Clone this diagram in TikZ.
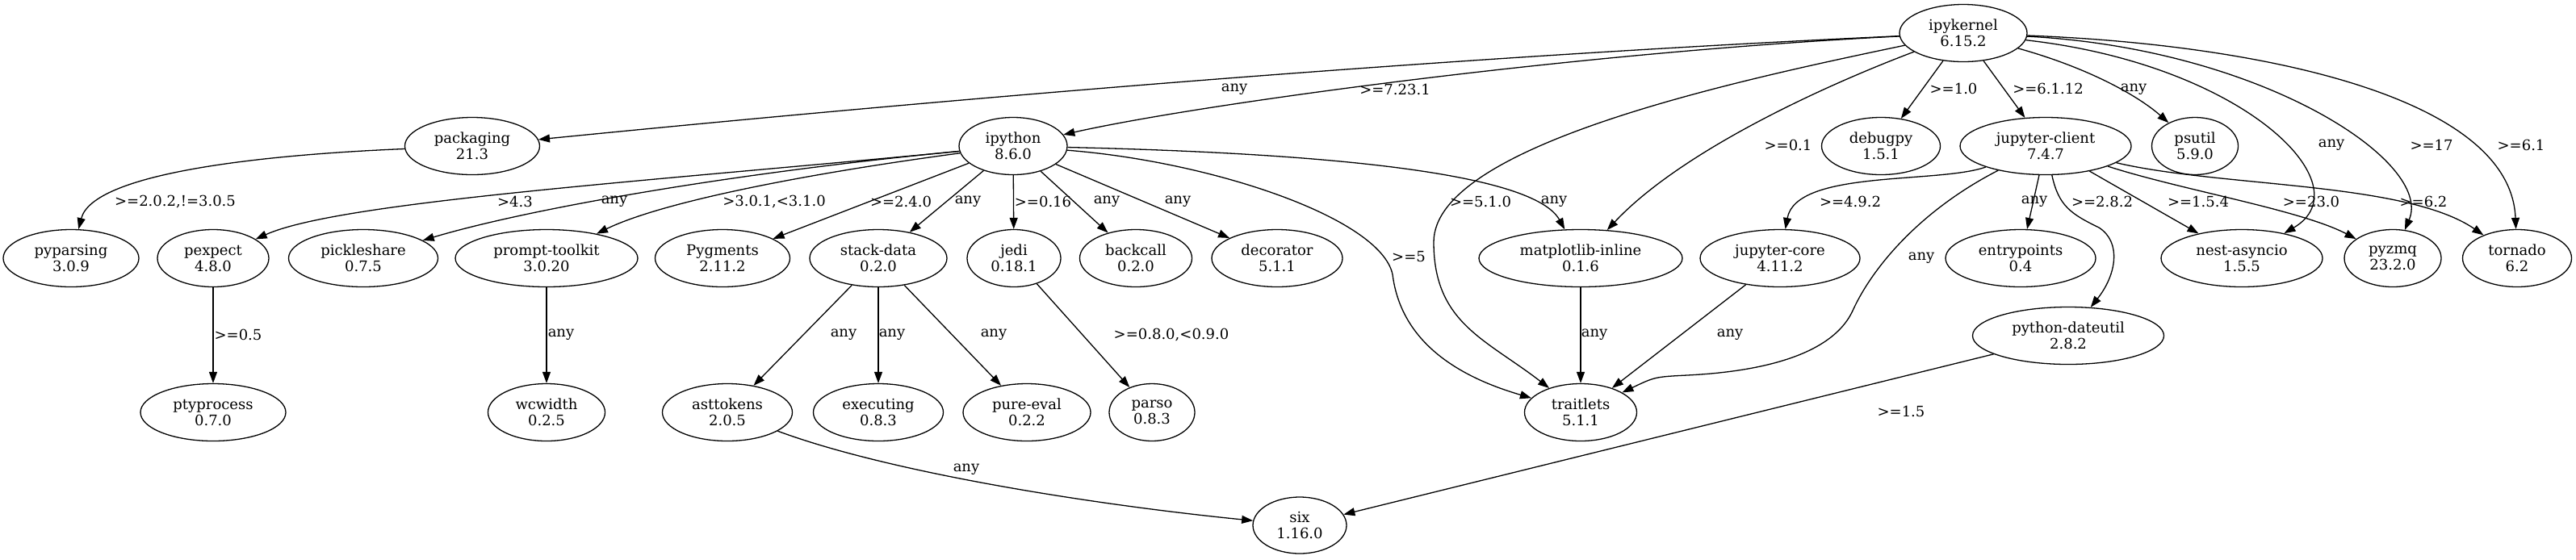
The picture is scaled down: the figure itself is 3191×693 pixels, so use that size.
\documentclass[tikz,border=0pt]{standalone}
\usepackage{fontspec}
\setmainfont{DejaVu Serif}
\usetikzlibrary{shapes.geometric,arrows.meta}
\newcommand{\depfont}{\fontsize{9}{10}\selectfont}
\begin{document}
\begin{tikzpicture}[x=0.5pt,y=-0.5pt,
    pkg/.style={draw,ellipse,inner sep=0pt,minimum height=35.5pt,minimum width=#1,align=center,font=\depfont,line width=0.65pt},
    dep/.style={-{Triangle[length=7pt,width=5pt]},line width=0.65pt},
    lbl/.style={font=\depfont,inner sep=0pt}]
        \useasboundingbox (0,0) rectangle (3191,693);
        % radice
        \node[pkg=79pt] (ipykernel) at (2432,41) {ipykernel\\6.15.2};
        % primo livello
        \node[pkg=83.5pt] (packaging) at (585,181) {packaging\\21.3};
        \node[pkg=67pt] (ipython) at (1255,181) {ipython\\8.6.0};
        \node[pkg=73.5pt] (debugpy) at (2330,181) {debugpy\\1.5.1};
        \node[pkg=106pt] (jclient) at (2534,181) {jupyter-client\\7.4.7};
        \node[pkg=53.5pt] (psutil) at (2719,181) {psutil\\5.9.0};
        % secondo livello
        \node[pkg=84pt] (pyparsing) at (88,320) {pyparsing\\3.0.9};
        \node[pkg=69pt] (pexpect) at (264,320) {pexpect\\4.8.0};
        \node[pkg=92.5pt] (pickleshare) at (450,320) {pickleshare\\0.7.5};
        \node[pkg=113pt] (ptk) at (677,320) {prompt-toolkit\\3.0.20};
        \node[pkg=83.5pt] (pygments) at (895,320) {Pygments\\2.11.2};
        \node[pkg=85pt] (stackdata) at (1088,320) {stack-data\\0.2.0};
        \node[pkg=58pt] (jedi) at (1256,320) {jedi\\0.18.1};
        \node[pkg=69.5pt] (backcall) at (1407,320) {backcall\\0.2.0};
        \node[pkg=81pt] (decorator) at (1582,320) {decorator\\5.1.1};
        \node[pkg=126pt] (mplinline) at (1958,320) {matplotlib-inline\\0.1.6};
        \node[pkg=99pt] (jcore) at (2205,320) {jupyter-core\\4.11.2};
        \node[pkg=93pt] (entrypoints) at (2503,320) {entrypoints\\0.4};
        \node[pkg=100pt] (nestasyncio) at (2777,320) {nest-asyncio\\1.5.5};
        \node[pkg=60pt] (pyzmq) at (2964,320) {pyzmq\\23.2.0};
        \node[pkg=67.5pt] (tornado) at (3118,320) {tornado\\6.2};
        \node[pkg=118.5pt] (dateutil) at (2562,416) {python-dateutil\\2.8.2};
        % terzo livello
        \node[pkg=90pt] (ptyprocess) at (264,511) {ptyprocess\\0.7.0};
        \node[pkg=72.5pt] (wcwidth) at (677,511) {wcwidth\\0.2.5};
        \node[pkg=80.5pt] (asttokens) at (901,511) {asttokens\\2.0.5};
        \node[pkg=80.5pt] (executing) at (1088,511) {executing\\0.8.3};
        \node[pkg=79pt] (pureeval) at (1272,511) {pure-eval\\0.2.2};
        \node[pkg=53pt] (parso) at (1427,511) {parso\\0.8.3};
        \node[pkg=69.5pt] (traitlets) at (1958,511) {traitlets\\5.1.1};
        \node[pkg=58pt,minimum height=35pt] (six) at (1610,651) {six\\1.16.0};
        % dipendenze di ipykernel
        \draw[dep] (ipykernel) .. controls (1800,70) and (1200,120) .. (packaging);
        \draw[dep] (ipykernel) .. controls (1950,65) and (1480,130) .. (ipython);
        \draw[dep] (ipykernel) .. controls (2150,100) and (1776,180) .. (1776,300)
            .. controls (1776,400) and (1840,420) .. (traitlets);
        \draw[dep] (ipykernel) .. controls (2250,110) and (2080,190) .. (mplinline);
        \draw[dep] (ipykernel) -- (debugpy);
        \draw[dep] (ipykernel) -- (jclient);
        \draw[dep] (ipykernel) .. controls (2590,85) and (2650,120) .. (psutil);
        \draw[dep] (ipykernel) .. controls (2780,80) and (2930,230) .. (nestasyncio);
        \draw[dep] (ipykernel) .. controls (2800,60) and (3015,200) .. (pyzmq);
        \draw[dep] (ipykernel) .. controls (2800,55) and (3110,120) .. (tornado);
        \node[lbl] (l1) at (1529,111) {any};
        \node[lbl] (l2) at (1728,111) {>=7.23.1};
        \node[lbl] (l3) at (1834,250) {>=5.1.0};
        \node[lbl] (l4) at (2215,180) {>=0.1};
        \node[lbl] (l5) at (2420,110) {>=1.0};
        \node[lbl] (l6) at (2537,110) {>=6.1.12};
        \node[lbl] (l7) at (2643,111) {any};
        \node[lbl] (l8) at (2888,180) {any};
        \node[lbl] (l9) at (3012,180) {>=17};
        \node[lbl] (l10) at (3123,180) {>=6.1};
        % packaging
        \draw[dep] (packaging) .. controls (320,192) and (115,215) .. (pyparsing);
        \node[lbl] (l11) at (217,250) {>=2.0.2,!=3.0.5};
        % ipython
        \draw[dep] (ipython) .. controls (800,225) and (420,250) .. (pexpect);
        \draw[dep] (ipython) .. controls (900,215) and (650,260) .. (pickleshare);
        \draw[dep] (ipython) .. controls (1000,215) and (820,250) .. (ptk);
        \draw[dep] (ipython) -- (pygments);
        \draw[dep] (ipython) -- (stackdata);
        \draw[dep] (ipython) -- (jedi);
        \draw[dep] (ipython) -- (backcall);
        \draw[dep] (ipython) -- (decorator);
        \draw[dep] (ipython) .. controls (1500,200) and (1710,270) .. (1725,340)
            .. controls (1735,420) and (1800,465) .. (traitlets);
        \draw[dep] (ipython) .. controls (1650,190) and (1900,215) .. (mplinline);
        \node[lbl] (l12) at (638,250) {>4.3};
        \node[lbl] (l13) at (761,250) {any};
        \node[lbl] (l14) at (959,250) {>3.0.1,<3.1.0};
        \node[lbl] (l15) at (1116,250) {>=2.4.0};
        \node[lbl] (l16) at (1199,250) {any};
        \node[lbl] (l17) at (1292,250) {>=0.16};
        \node[lbl] (l18) at (1371,250) {any};
        \node[lbl] (l19) at (1459,250) {any};
        \node[lbl] (l20) at (1745,318) {>=5};
        \node[lbl] (l21) at (1925,250) {any};
        % livelli inferiori
        \draw[dep] (pexpect) -- (ptyprocess);
        \draw[dep] (ptk) -- (wcwidth);
        \draw[dep] (stackdata) -- (asttokens);
        \draw[dep] (stackdata) -- (executing);
        \draw[dep] (stackdata) -- (pureeval);
        \draw[dep] (jedi) -- (parso);
        \draw[dep] (mplinline) -- (traitlets);
        \draw[dep] (asttokens) .. controls (1100,585) and (1350,625) .. (six);
        \node[lbl] (l22) at (295,415) {>=0.5};
        \node[lbl] (l23) at (695,415) {any};
        \node[lbl] (l24) at (1045,415) {any};
        \node[lbl] (l25) at (1105,415) {any};
        \node[lbl] (l26) at (1231,415) {any};
        \node[lbl] (l27) at (1451,415) {>=0.8.0,<0.9.0};
        \node[lbl] (l28) at (1975,415) {any};
        \node[lbl] (l29) at (1197,582) {any};
        % jupyter-client
        \draw[dep] (jclient) .. controls (2400,228) and (2225,210) .. (jcore);
        \draw[dep] (jclient) .. controls (2380,260) and (2320,330) .. (2295,385)
            .. controls (2265,450) and (2150,462) .. (2090,465)
            .. controls (2050,467) .. (traitlets);
        \draw[dep] (jclient) -- (entrypoints);
        \draw[dep] (jclient) .. controls (2550,255) and (2565,265) .. (2600,282)
            .. controls (2628,300) and (2622,340) .. (dateutil);
        \draw[dep] (jclient) -- (nestasyncio);
        \draw[dep] (jclient) .. controls (2700,235) and (2850,260) .. (pyzmq);
        \draw[dep] (jclient) .. controls (2750,232) and (2980,225) .. (tornado);
        \draw[dep] (jcore) -- (traitlets);
        \draw[dep] (dateutil) -- (six);
        \node[lbl] (l30) at (2292,250) {>=4.9.2};
        \node[lbl] (l31) at (2520,250) {any};
        \node[lbl] (l32) at (2604,250) {>=2.8.2};
        \node[lbl] (l33) at (2723,250) {>=1.5.4};
        \node[lbl] (l34) at (2863,250) {>=23.0};
        \node[lbl] (l35) at (3002,250) {>=6.2};
        \node[lbl] (l36) at (2380,320) {any};
        \node[lbl] (l37) at (2143,415) {any};
        \node[lbl] (l38) at (2355,510) {>=1.5};
    \end{tikzpicture}
\end{document}
